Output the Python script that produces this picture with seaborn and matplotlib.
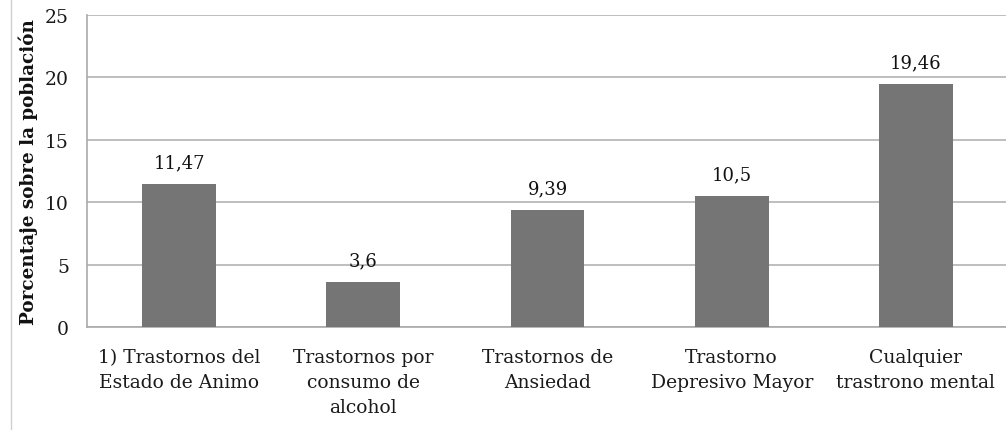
import matplotlib
matplotlib.use("Agg")
import matplotlib.pyplot as plt
import seaborn as sns
import pandas as pd
import numpy as np
from matplotlib.lines import Line2D

categorias = ["1) Trastornos del\nEstado de Animo",
              "Trastornos por\nconsumo de\nalcohol",
              "Trastornos de\nAnsiedad",
              "Trastorno\nDepresivo Mayor",
              "Cualquier\ntrastrono mental"]
valores = [11.47, 3.6, 9.39, 10.5, 19.46]
etiquetas = ["11,47", "3,6", "9,39", "10,5", "19,46"]
yticks = [0, 5, 10, 15, 20, 25]

sns.set_theme(style="white")
plt.rcParams['font.family'] = ['DejaVu Serif']

df = pd.DataFrame({"cat": categorias, "val": valores})

fig = plt.figure(figsize=(10.06, 4.31), dpi=100)
ax = fig.add_axes([0.0865, 0.239, 0.9155, 0.724])

sns.barplot(data=df, x="cat", y="val", color="#757575", width=0.4,
            saturation=1, ax=ax, zorder=3, linewidth=0)

ax.set_ylim(0, 25)
ax.set_yticks(yticks)
ax.set_yticklabels([str(t) for t in yticks], fontsize=13.5)
ax.set_xlim(-0.5, len(categorias) - 0.5)
ax.yaxis.grid(True, color="#b3b3b3", linewidth=1.2, zorder=0)
ax.tick_params(axis='y', length=8, color="#b3b3b3", width=1.2, pad=5, labelcolor="#1a1a1a")
ax.tick_params(axis='x', which='major', length=0, pad=15, labelsize=13.5, labelcolor="#1a1a1a")
ax.set_xticks(np.arange(0.5, len(categorias) - 0.5), minor=True)
ax.tick_params(axis='x', which='minor', length=6, color="#aaaaaa", width=1.2, direction='out')
ax.set_xlabel("")
ax.set_ylabel("Porcentaje sobre la población", fontsize=13.2, fontweight='bold',
              labelpad=5, color="#111111")
for t in ax.get_xticklabels():
    t.set_linespacing(1.5)

for s in ["top", "right"]:
    ax.spines[s].set_visible(False)
ax.spines["left"].set_color("#aaaaaa")
ax.spines["left"].set_linewidth(1.2)
ax.spines["bottom"].set_color("#aaaaaa")
ax.spines["bottom"].set_linewidth(1.2)

for i, (v, lab) in enumerate(zip(valores, etiquetas)):
    ax.annotate(lab, (i, v), xytext=(0, 9), textcoords="offset points",
                ha="center", va="bottom", fontsize=13, color="#111111")

fig.add_artist(Line2D([0.011, 0.011], [0.0, 1.0], transform=fig.transFigure,
                      color="#d0d0d0", linewidth=1))

fig.savefig("out.png", dpi=100)
